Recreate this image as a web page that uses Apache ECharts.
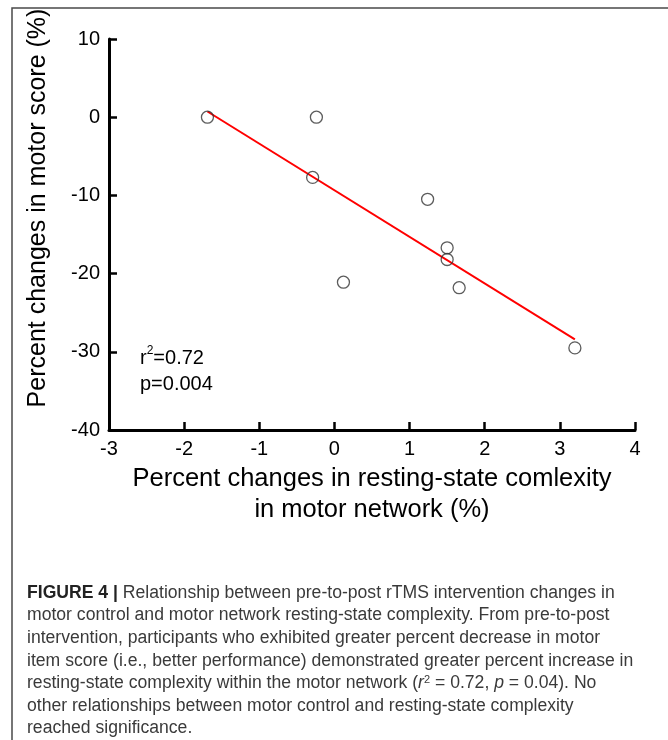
<!DOCTYPE html>
<html>
<head>
<meta charset="utf-8">
<title>Figure 4</title>
<script src="https://cdn.jsdelivr.net/npm/echarts@6/dist/echarts.min.js"></script>
<style>
  html, body { margin: 0; padding: 0; background: #fff; }
  #chart { width: 668px; height: 740px; }
</style>
</head>
<body>
<div id="chart"></div>
<script>
// points
const complexityChange = [-1.69, -0.24, -0.29, 1.24, 1.50, 1.50, 0.12, 1.66, 3.20]
const motorScoreChange = [0, 0, -7.7, -10.5, -16.7, -18.2, -21.1, -21.8, -29.5]
// fitted line end points
const fitX = [-1.69, 3.20]
const fitY = [0.73, -28.4]
// axis ticks
const xTicks = [-3, -2, -1, 0, 1, 2, 3, 4]
const yTicks = [-40, -30, -20, -10, 0, 10]

const captionLines = [
  '{b|FIGURE 4 |} Relationship between pre-to-post rTMS intervention changes in',
  'motor control and motor network resting-state complexity. From pre-to-post',
  'intervention, participants who exhibited greater percent decrease in motor',
  'item score (i.e., better performance) demonstrated greater percent increase in',
  'resting-state complexity within the motor network ({i|r}{s|2} = 0.72, {i|p} = 0.04). No',
  'other relationships between motor control and resting-state complexity',
  'reached significance.'
]

const FONT = 'Liberation Sans, Arial, sans-serif'
const CAPTION_SIZE = 17.6
const chart = echarts.init(document.getElementById('chart'))

const points = complexityChange.map((x, i) => [x, motorScoreChange[i]])
const fitLine = fitX.map((x, i) => [x, fitY[i]])

// caption as one text element per line
const captionGraphics = captionLines.map((line, i) => ({
  type: 'text',
  left: 27,
  top: 584 + i * 22.6,
  style: {
    text: line,
    fontFamily: FONT,
    fontSize: CAPTION_SIZE,
    fill: '#3a3a3a',
    rich: {
      b: { fontWeight: 'bold', fontSize: CAPTION_SIZE, fontFamily: FONT, fill: '#222' },
      i: { fontStyle: 'italic', fontSize: CAPTION_SIZE, fontFamily: FONT, fill: '#3a3a3a' },
      s: { fontSize: 11, fontFamily: FONT, fill: '#3a3a3a', verticalAlign: 'top' }
    }
  }
}))

chart.setOption({
  animation: false,
  backgroundColor: '#fff',
  grid: {
    left: 109,
    right: 33,
    top: 39,
    bottom: 310,
    containLabel: false
  },
  xAxis: {
    type: 'value',
    min: xTicks[0],
    max: xTicks[xTicks.length - 1],
    interval: 1,
    splitLine: { show: false },
    axisLine: { show: true, onZero: false, lineStyle: { color: '#000', width: 3 } },
    axisTick: { show: true, inside: true, length: 8, lineStyle: { color: '#000', width: 2.5 } },
    axisLabel: { color: '#000', fontSize: 20, fontFamily: FONT, margin: 9 },
    name: 'Percent changes in resting-state comlexity\nin motor network (%)',
    nameLocation: 'middle',
    nameGap: 33,
    nameTextStyle: { color: '#000', fontSize: 25.5, fontFamily: FONT, lineHeight: 31, verticalAlign: 'top' }
  },
  yAxis: {
    type: 'value',
    min: yTicks[0],
    max: yTicks[yTicks.length - 1],
    interval: 10,
    splitLine: { show: false },
    axisLine: { show: true, onZero: false, lineStyle: { color: '#000', width: 3 } },
    axisTick: { show: true, inside: true, length: 8, lineStyle: { color: '#000', width: 2.5 } },
    axisLabel: { color: '#000', fontSize: 20, fontFamily: FONT, margin: 9 }
  },
  graphic: [
    // figure frame (left and top edges)
    {
      type: 'polyline',
      shape: { points: [[12, 740], [12, 8], [668, 8]] },
      style: { stroke: '#4a4a4a', lineWidth: 1.5, fill: null }
    },
    // y axis title
    {
      type: 'text',
      x: 38,
      y: 208,
      rotation: Math.PI / 2,
      style: {
        text: 'Percent changes in motor score (%)',
        fontFamily: FONT,
        fontSize: 25,
        fill: '#000',
        align: 'center',
        verticalAlign: 'middle'
      }
    },
    // stats annotation
    {
      type: 'text',
      left: 140,
      top: 345,
      style: {
        text: '{n|r}{s|2}{n|=0.72}\n{n|p=0.004}',
        fill: '#000',
        rich: {
          n: { fontSize: 20, fontFamily: FONT, fill: '#000', lineHeight: 26 },
          s: { fontSize: 12, fontFamily: FONT, fill: '#000', verticalAlign: 'top', lineHeight: 26 }
        }
      }
    }
  ].concat(captionGraphics),
  series: [
    {
      name: 'fit',
      type: 'line',
      data: fitLine,
      symbol: 'none',
      lineStyle: { color: '#ff0000', width: 2 },
      z: 2
    },
    {
      name: 'participants',
      type: 'scatter',
      data: points,
      symbol: 'circle',
      symbolSize: 12,
      itemStyle: { color: 'rgba(0,0,0,0)', borderColor: '#333', borderWidth: 1.3 },
      z: 3
    }
  ]
})
</script>
</body>
</html>
